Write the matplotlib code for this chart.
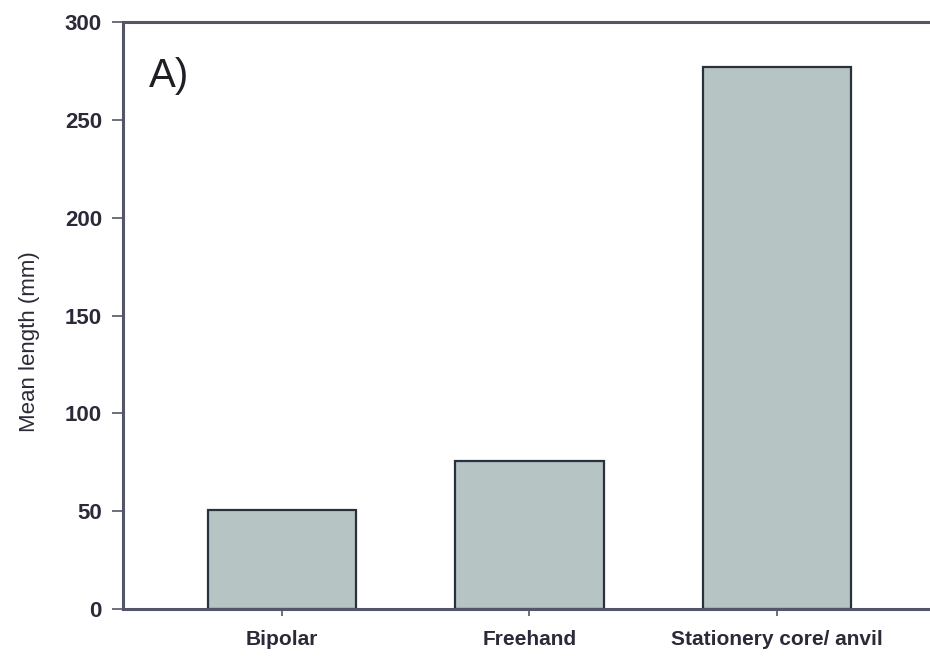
import matplotlib.pyplot as plt

# data
categories = ['Bipolar', 'Freehand', 'Stationery core/ anvil']
mean_length = [50.5, 75.5, 277]

plt.rcParams['font.family'] = ['Liberation Sans', 'DejaVu Sans']

fig = plt.figure(figsize=(9.3, 6.57), dpi=100)
ax = fig.add_axes([0.132, 0.073, 0.868, 0.8935])

x = range(len(categories))
ax.bar(x, mean_length, width=0.6, color='#b6c4c3', edgecolor='#28313c', linewidth=1.6)

ax.set_xlim(-0.645, 2.62)
ax.set_ylim(0, 300)
ax.set_xticks(list(x))
ax.set_xticklabels(categories, fontsize=15, color='#2a2a38', fontweight='semibold')
ax.set_yticks(range(0, 301, 50))
ax.tick_params(axis='y', labelsize=16, labelcolor='#2a2a38', length=8, width=1.2,
               color='#55556a', direction='out', pad=7)
ax.tick_params(axis='x', length=5, width=1.2, color='#55556a', direction='out', pad=10)
for lab in ax.get_yticklabels():
    lab.set_fontweight('bold')

ax.set_ylabel('Mean length (mm)', fontsize=16, color='#2a2a38')
ax.yaxis.set_label_coords(-0.103, 0.455)

ax.spines['right'].set_visible(False)
for s in ['left', 'top', 'bottom']:
    ax.spines[s].set_color('#55556a')
    ax.spines[s].set_linewidth(2.2)

ax.text(0.033, 0.94, 'A)', transform=ax.transAxes, fontsize=29, color='#1e1e24', va='top')

fig.savefig('out.png', dpi=100)
